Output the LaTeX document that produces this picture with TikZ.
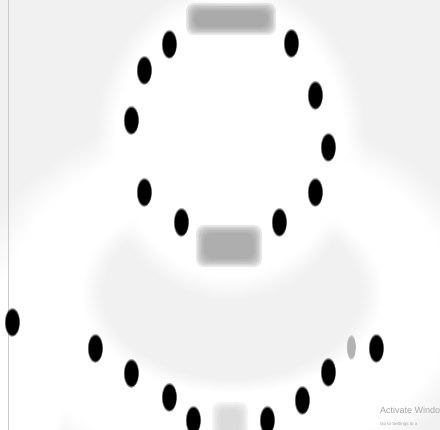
\documentclass[tikz,border=0pt]{standalone}
\usepackage{fontspec}
\setmainfont{Liberation Sans}
\usetikzlibrary{shapes.geometric,fadings}
\definecolor{bg}{HTML}{F1F1F1}
\tikzset{
  glow/.style={path fading=circle with fuzzy edge 15 percent},
  soft/.style={path fading=circle with fuzzy edge 20 percent},
}
\newcommand{\softblob}[5]{% x1 y1 x2 y2 colour
  \foreach \k in {0,...,5}{
    \fill[#5, opacity=0.22, rounded corners=8pt] ({#1+1.6*\k},{#2+1.6*\k}) rectangle ({#3-1.6*\k},{#4-1.6*\k});
  }
}
\begin{document}
\begin{tikzpicture}[x=1pt,y=-1pt]
\useasboundingbox (0,0) rectangle (440,430);
\clip (0,0) rectangle (440,430);
\fill[bg] (0,0) rectangle (440,430);
% glows
\fill[white, glow] (230,300) ellipse[x radius=260, y radius=190];
\fill[bg, glow] (232,292) ellipse[x radius=150, y radius=100];
\fill[white, glow] (230,140) ellipse[x radius=135, y radius=160];
\fill[white, glow] (10,380) ellipse[x radius=60, y radius=120];
% left frame line
\draw[gray!40, line width=0.8pt] (8,0) -- (8,430);
% blobs
\softblob{186}{3}{276}{35}{gray!85}
\softblob{196}{225}{262}{267}{gray!80}
\softblob{212}{402}{248}{440}{gray!35}
% faint dot
\fill[gray!60, soft] (351,347) ellipse[x radius=5, y radius=13];
% dots
\foreach \n/\x/\y in {a/169/44, b/291/43, c/144/70, d/131/120, e/315/95, f/328/147, g/144/192, h/315/192, i/181/222, j/279/222,
  k/12/322, l/95/348, m/131/373, n/169/397, o/193/420, p/267/420, q/302/400, r/328/372, s/376/348}{
  \fill[black, soft] (\x,\y) ellipse[x radius=8, y radius=15];
  \coordinate (\n) at (\x,\y);
}
% watermark text
\node[anchor=base west, inner sep=0pt, text=gray!70, font=\fontsize{9}{10}\selectfont] (act) at (380,414) {Activate Windo};
\node[anchor=base west, inner sep=0pt, text=gray!70, font=\fontsize{4.5}{5}\selectfont] (go) at (380,426) {Go to Settings to a};
\end{tikzpicture}
\end{document}
